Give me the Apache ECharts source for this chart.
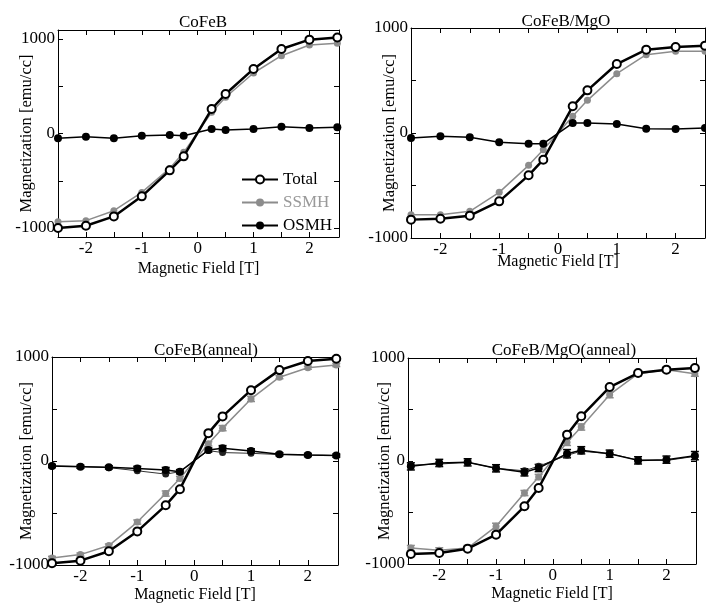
<!DOCTYPE html>
<html>
<head>
<meta charset="utf-8">
<script src="https://cdn.jsdelivr.net/npm/echarts@6/dist/echarts.min.js"></script>
<style>html,body{margin:0;padding:0;background:#fff;}#c{width:706px;height:606px;}</style>
</head>
<body>
<div id="c"></div>
<script>
// ---- data ----
const fieldT = [-2.5, -2, -1.5, -1, -0.5, -0.25, 0.25, 0.5, 1, 1.5, 2, 2.5];
const xTickLabels = [-2, -1, 0, 1, 2];
const yTickLabels = [-1000, 0, 1000];
const panelTitles = ['CoFeB', 'CoFeB/MgO', 'CoFeB(anneal)', 'CoFeB/MgO(anneal)'];

const cofebTotal = [-1000, -976, -877, -665, -390, -242, 259, 418, 683, 894, 993, 1016];
const cofebSSMH  = [-933, -922, -817, -623, -369, -199, 224, 383, 640, 823, 937, 954];
const cofebOSMH  = [-51, -34, -51, -23, -16, -23, 48, 37, 48, 72, 58, 65];

const mgoTotal = [-825, -816, -787, -651, -403, -254, 254, 406, 657, 794, 819, 832];
const mgoSSMH  = [-778, -778, -746, -565, -308, -159, 159, 311, 565, 746, 778, 778];
const mgoOSMH  = [-48, -32, -41, -89, -102, -102, 95, 95, 86, 41, 38, 48];

const annTotal = [-984, -958, -868, -677, -426, -271, 268, 429, 681, 874, 961, 984];
const annSSMH  = [-932, -900, -813, -587, -313, -168, 165, 316, 597, 806, 897, 923];
const annOSMH  = [-48, -55, -61, -71, -87, -103, 106, 123, 97, 65, 58, 52];
const annOSMH2 = [-48, -52, -64, -94, -126, -103, 100, 81, 74, 62, 58, 52];
const annSSMHErr = [15, 15, 15, 20, 25, 20, 20, 25, 25, 15, 15, 15];
const annOSMHErr = [15, 15, 15, 20, 25, 20, 20, 25, 20, 15, 15, 15];

const mgoAnnTotal = [-903, -893, -851, -715, -440, -262, 256, 434, 718, 854, 887, 903];
const mgoAnnSSMH  = [-845, -867, -845, -634, -311, -155, 181, 330, 644, 848, 887, 848];
const mgoAnnOSMH  = [-52, -19, -13, -71, -110, -68, 71, 104, 71, 6, 13, 52];
const mgoAnnOSMH2 = [-40, -30, -13, -71, -95, -50, 55, 95, 71, 10, 5, 45];
const mgoAnnSSMHErr = [25, 25, 25, 30, 25, 25, 30, 30, 30, 25, 25, 25];
const mgoAnnOSMHErr = [35, 35, 35, 35, 35, 35, 40, 35, 35, 35, 35, 40];

// ---- layout ----
const FONT = '"Liberation Serif","Times New Roman",serif';
const grids = [
  {left: 58, top: 30, width: 281, height: 207, xmin: -2.5, xmax: 2.53, ymin: -1095, ymax: 1095, yGap: 23, xGap: 24, titleX: 198, titleY: 9},
  {left: 411, top: 28, width: 294, height: 210, xmin: -2.5, xmax: 2.5, ymin: -1000, ymax: 1000, yGap: 13, xGap: 16, titleX: 561, titleY: 8},
  {left: 52, top: 357, width: 286, height: 208, xmin: -2.5, xmax: 2.53, ymin: -1000, ymax: 1000, yGap: 17, xGap: 22, titleX: 201, titleY: 337},
  {left: 408, top: 358, width: 288, height: 206, xmin: -2.55, xmax: 2.52, ymin: -1000, ymax: 1000, yGap: 15, xGap: 22, titleX: 559, titleY: 337}
];

const xTicks = [-2, -1.5, -1, -0.5, 0, 0.5, 1, 1.5, 2];
const yTicks = [-1000, -500, 0, 500, 1000];

const pair = arr => fieldT.map((x, i) => [x, arr[i]]);
const errData = (arr, err) => fieldT.map((x, i) => [x, arr[i], err[i]]);
const plain = v => String(v);

const gridOpts = [], xAxes = [], yAxes = [], titles = [], series = [];
grids.forEach((g, k) => {
  gridOpts.push({left: g.left, top: g.top, width: g.width, height: g.height, containLabel: false});
  titles.push({text: panelTitles[k], left: g.titleX, top: g.titleY, textAlign: 'center',
    textStyle: {fontFamily: FONT, fontSize: 17, fontWeight: 'normal', color: '#000'}});
  const lineStyle = {color: '#000', width: 1};
  xAxes.push({
    type: 'value', gridIndex: k, min: g.xmin, max: g.xmax, position: 'bottom',
    name: 'Magnetic Field [T]', nameLocation: 'middle', nameGap: g.xGap, nameMoveOverlap: false,
    nameTextStyle: {fontFamily: FONT, fontSize: 16, color: '#000', verticalAlign: 'top'},
    axisLine: {show: true, onZero: false, lineStyle},
    axisTick: {show: true, inside: true, length: 5, customValues: xTicks, lineStyle},
    axisLabel: {show: true, customValues: xTickLabels, margin: 3, fontFamily: FONT, fontSize: 17, color: '#000', formatter: plain},
    splitLine: {show: false}
  });
  xAxes.push({
    type: 'value', gridIndex: k, min: g.xmin, max: g.xmax, position: 'top',
    axisLine: {show: true, onZero: false, lineStyle},
    axisTick: {show: true, inside: true, length: 5, customValues: xTicks, lineStyle},
    axisLabel: {show: false}, splitLine: {show: false}
  });
  yAxes.push({
    type: 'value', gridIndex: k, min: g.ymin, max: g.ymax, position: 'left',
    name: 'Magnetization [emu/cc]', nameLocation: 'middle', nameGap: g.yGap, nameRotate: 90, nameMoveOverlap: false,
    nameTextStyle: {fontFamily: FONT, fontSize: 16.5, color: '#000', verticalAlign: 'bottom'},
    axisLine: {show: true, onZero: false, lineStyle},
    axisTick: {show: true, inside: true, length: 5, customValues: yTicks, lineStyle},
    axisLabel: {show: true, customValues: yTickLabels, margin: 3, fontFamily: FONT, fontSize: 17, color: '#000', formatter: plain},
    splitLine: {show: false}
  });
  yAxes.push({
    type: 'value', gridIndex: k, min: g.ymin, max: g.ymax, position: 'right',
    axisLine: {show: true, onZero: false, lineStyle},
    axisTick: {show: true, inside: true, length: 5, customValues: yTicks, lineStyle},
    axisLabel: {show: false}, splitLine: {show: false}
  });
});

function lineSeries(name, k, arr, kind, z) {
  const st = {
    total: {color: '#000', width: 2.5, sym: 'circle', size: 8, fill: '#fff', bw: 2},
    ssmh:  {color: '#8c8c8c', width: 1.5, sym: 'circle', size: 7, fill: '#8c8c8c', bw: 0},
    osmh:  {color: '#000', width: 1.5, sym: 'circle', size: 8, fill: '#000', bw: 0},
    osmh2: {color: '#333', width: 1, sym: 'circle', size: 7, fill: '#222', bw: 0}
  }[kind];
  return {
    type: 'line', name, xAxisIndex: 2 * k, yAxisIndex: 2 * k, data: pair(arr),
    symbol: st.sym, symbolSize: st.size, showSymbol: true, z: z,
    lineStyle: {color: st.color, width: st.width},
    itemStyle: {color: st.fill, borderColor: st.color, borderWidth: st.bw},
    emphasis: {disabled: true}, animation: false
  };
}
function errSeries(k, arr, err, color, z) {
  return {
    type: 'custom', xAxisIndex: 2 * k, yAxisIndex: 2 * k, data: errData(arr, err), z: z,
    animation: false, silent: true,
    renderItem: (params, api) => {
      const x = api.value(0), y = api.value(1), e = api.value(2);
      const lo = api.coord([x, y - e]), hi = api.coord([x, y + e]);
      const w = 4;
      return {type: 'group', children: [
        {type: 'line', shape: {x1: lo[0], y1: lo[1], x2: hi[0], y2: hi[1]}, style: {stroke: color, lineWidth: 1.5}},
        {type: 'line', shape: {x1: lo[0] - w, y1: lo[1], x2: lo[0] + w, y2: lo[1]}, style: {stroke: color, lineWidth: 1.5}},
        {type: 'line', shape: {x1: hi[0] - w, y1: hi[1], x2: hi[0] + w, y2: hi[1]}, style: {stroke: color, lineWidth: 1.5}}
      ]};
    }
  };
}

// panel 1
series.push(lineSeries('SSMH', 0, cofebSSMH, 'ssmh', 2));
series.push(lineSeries('OSMH', 0, cofebOSMH, 'osmh', 3));
series.push(lineSeries('Total', 0, cofebTotal, 'total', 4));
// panel 2
series.push(lineSeries('SSMH', 1, mgoSSMH, 'ssmh', 2));
series.push(lineSeries('OSMH', 1, mgoOSMH, 'osmh', 3));
series.push(lineSeries('Total', 1, mgoTotal, 'total', 4));
// panel 3
series.push(errSeries(2, annSSMH, annSSMHErr, '#8c8c8c', 1));
series.push(lineSeries('SSMH', 2, annSSMH, 'ssmh', 2));
series.push(lineSeries('OSMH2', 2, annOSMH2, 'osmh2', 2));
series.push(errSeries(2, annOSMH, annOSMHErr, '#000', 2));
series.push(lineSeries('OSMH', 2, annOSMH, 'osmh', 3));
series.push(lineSeries('Total', 2, annTotal, 'total', 4));
// panel 4
series.push(errSeries(3, mgoAnnSSMH, mgoAnnSSMHErr, '#8c8c8c', 1));
series.push(lineSeries('SSMH', 3, mgoAnnSSMH, 'ssmh', 2));
series.push(lineSeries('OSMH2', 3, mgoAnnOSMH2, 'osmh2', 2));
series.push(errSeries(3, mgoAnnOSMH, mgoAnnOSMHErr, '#000', 2));
series.push(lineSeries('OSMH', 3, mgoAnnOSMH, 'osmh', 3));
series.push(lineSeries('Total', 3, mgoAnnTotal, 'total', 4));

const chart = echarts.init(document.getElementById('c'), null, {renderer: 'canvas'});
chart.setOption({
  backgroundColor: '#fff',
  animation: false,
  title: titles,
  grid: gridOpts,
  xAxis: xAxes,
  yAxis: yAxes,
  legend: {
    left: 236, top: 166, orient: 'vertical', itemWidth: 36, itemHeight: 10, itemGap: 6,
    selectedMode: false,
    textStyle: {fontFamily: FONT, fontSize: 17, color: '#000'},
    data: [
      {name: 'Total', textStyle: {color: '#000'}},
      {name: 'SSMH', textStyle: {color: '#999'}},
      {name: 'OSMH', textStyle: {color: '#000'}}
    ]
  },
  series
});
</script>
</body>
</html>
